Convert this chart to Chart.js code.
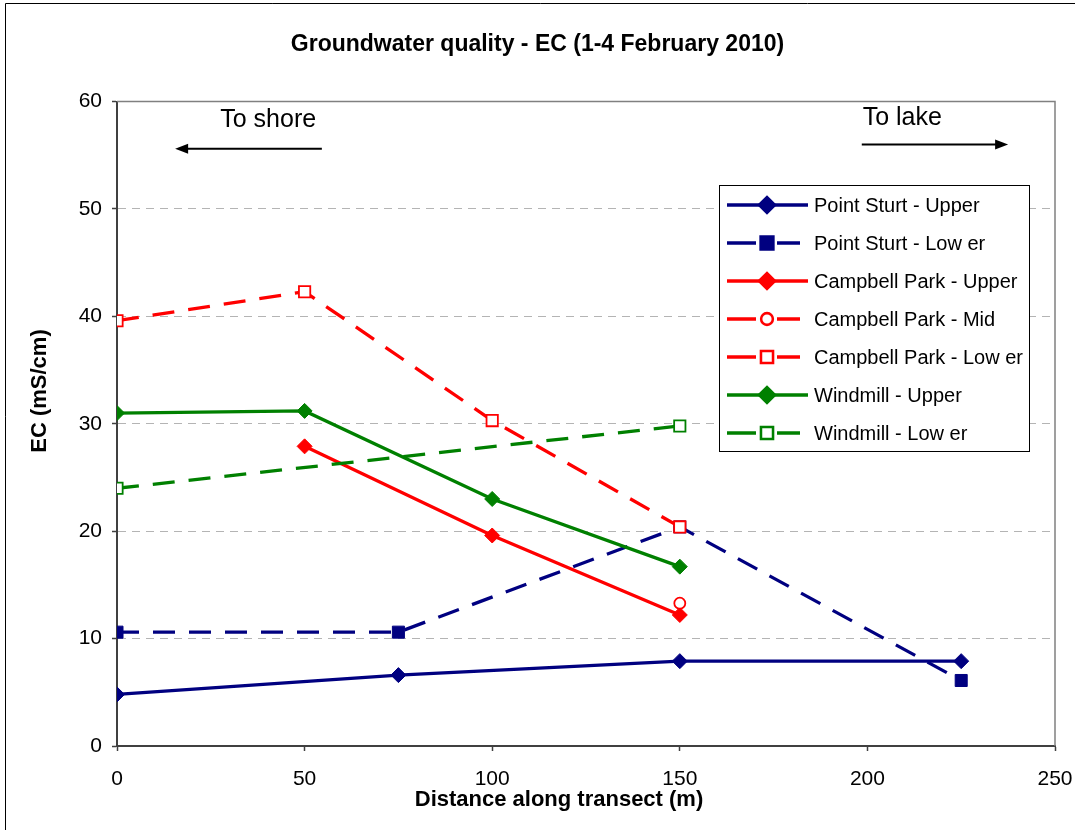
<!DOCTYPE html>
<html>
<head>
<meta charset="utf-8">
<script src="https://cdn.jsdelivr.net/npm/chart.js@4/dist/chart.umd.min.js"></script>
<style>
  html, body { margin: 0; padding: 0; background: #fff; }
</style>
</head>
<body>
<canvas id="ecChart" width="1075" height="830"></canvas>
<script>
// values (distance in m, EC in mS/cm)
const psUpperX = [0, 75, 150, 225];
const psUpperY = [4.8, 6.6, 7.9, 7.9];
const psLowerX = [0, 75, 150, 225];
const psLowerY = [10.6, 10.6, 20.4, 6.1];
const cpUpperX = [50, 100, 150];
const cpUpperY = [27.9, 19.6, 12.2];
const cpMidX = [150];
const cpMidY = [13.3];
const cpLowerX = [0, 50, 100, 150];
const cpLowerY = [39.6, 42.3, 30.3, 20.4];
const wmUpperX = [0, 50, 100, 150];
const wmUpperY = [31.0, 31.2, 23.0, 16.7];
const wmLowerX = [0, 150];
const wmLowerY = [24.0, 29.8];

const seriesNames = [
    'Point Sturt - Upper', 'Point Sturt - Low er',
    'Campbell Park - Upper', 'Campbell Park - Mid', 'Campbell Park - Low er',
    'Windmill - Upper', 'Windmill - Low er'
];
const xTicks = [0, 50, 100, 150, 200, 250];
const yTicks = [0, 10, 20, 30, 40, 50, 60];
const xTitle = 'Distance along transect (m)';
const yTitle = 'EC (mS/cm)';

const NAVY = '#000080';
const RED = '#ff0000';
const GREEN = '#008000';
const FONT = '"Liberation Sans", Arial, sans-serif';
const DASH = [22, 14];

function pts(xs, ys) {
    return xs.map((x, i) => ({ x: x, y: ys[i] }));
}

const styles = [
    { color: NAVY, dash: [], marker: 'rectRot', radius: 7.5, filled: true },
    { color: NAVY, dash: DASH, marker: 'rect', radius: 8.5, filled: true },
    { color: RED, dash: [], marker: 'rectRot', radius: 7.5, filled: true },
    { color: RED, dash: DASH, marker: 'circle', radius: 5.5, filled: false },
    { color: RED, dash: DASH, marker: 'rect', radius: 8, filled: false },
    { color: GREEN, dash: [], marker: 'rectRot', radius: 7.5, filled: true },
    { color: GREEN, dash: DASH, marker: 'rect', radius: 8, filled: false }
];
const xs = [psUpperX, psLowerX, cpUpperX, cpMidX, cpLowerX, wmUpperX, wmLowerX];
const ys = [psUpperY, psLowerY, cpUpperY, cpMidY, cpLowerY, wmUpperY, wmLowerY];

const datasets = seriesNames.map((name, i) => ({
    label: name,
    data: pts(xs[i], ys[i]),
    borderColor: styles[i].color,
    borderWidth: 3.3,
    borderDash: styles[i].dash,
    pointStyle: styles[i].marker,
    pointRadius: styles[i].radius,
    pointBackgroundColor: styles[i].filled ? styles[i].color : '#ffffff',
    pointBorderColor: styles[i].color,
    pointBorderWidth: styles[i].filled ? 1 : 1.8,
    showLine: true,
    fill: false,
    tension: 0,
    order: seriesNames.length - i
}));

// plot frame, axis titles, arrows and the boxed legend
const extrasPlugin = {
    id: 'extras',
    beforeDatasetsDraw(chart) {
        const { ctx, chartArea: a } = chart;
        ctx.save();
        ctx.strokeStyle = '#808080';
        ctx.lineWidth = 1.5;
        ctx.beginPath();
        ctx.moveTo(a.left, a.top);
        ctx.lineTo(a.right, a.top);
        ctx.lineTo(a.right, a.bottom);
        ctx.stroke();
        ctx.restore();
    },
    afterDraw(chart) {
        const { ctx, scales } = chart;
        const sx = scales.x, sy = scales.y;
        ctx.save();

        // outer chart border
        ctx.strokeStyle = '#000';
        ctx.lineWidth = 1;
        ctx.beginPath();
        ctx.moveTo(5.5, 830);
        ctx.lineTo(5.5, 3.5);
        ctx.lineTo(1075, 3.5);
        ctx.stroke();

        // axis titles (Excel places them slightly off-centre)
        ctx.fillStyle = '#000';
        ctx.font = 'bold 22px ' + FONT;
        ctx.textAlign = 'center';
        ctx.textBaseline = 'alphabetic';
        ctx.fillText(xTitle, 559, 806);
        ctx.save();
        ctx.translate(46, 391);
        ctx.rotate(-Math.PI / 2);
        ctx.fillText(yTitle, 0, 0);
        ctx.restore();

        // direction notes
        ctx.font = '25px ' + FONT;
        ctx.fillText('To shore', sx.getPixelForValue(40.3), sy.getPixelForValue(57.6));
        ctx.fillText('To lake', sx.getPixelForValue(209.3), sy.getPixelForValue(57.8));
        drawArrow(ctx, sx.getPixelForValue(54.6), sx.getPixelForValue(15.5), sy.getPixelForValue(55.6));
        drawArrow(ctx, sx.getPixelForValue(198.5), sx.getPixelForValue(237.5), sy.getPixelForValue(56.0));

        // legend
        const lx = 719.5, ly = 185.5, lw = 310, lh = 266;
        ctx.fillStyle = '#fff';
        ctx.fillRect(lx, ly, lw, lh);
        ctx.strokeStyle = '#000';
        ctx.lineWidth = 1;
        ctx.strokeRect(lx, ly, lw, lh);
        ctx.font = '20px ' + FONT;
        ctx.textAlign = 'left';
        ctx.textBaseline = 'middle';
        seriesNames.forEach((name, i) => {
            const st = styles[i];
            const y = 205 + i * 38;
            ctx.strokeStyle = st.color;
            ctx.lineWidth = 3.3;
            ctx.beginPath();
            if (st.dash.length) {
                ctx.moveTo(727, y); ctx.lineTo(756, y);
                ctx.moveTo(777, y); ctx.lineTo(800, y);
            } else {
                ctx.moveTo(727, y); ctx.lineTo(808, y);
            }
            ctx.stroke();
            Chart.helpers.drawPoint(ctx, {
                pointStyle: st.marker,
                radius: st.radius,
                borderWidth: st.filled ? 1 : 1.8,
                rotation: 0
            }, 767, y);
            ctx.fillStyle = st.filled ? st.color : '#fff';
            ctx.strokeStyle = st.color;
            ctx.lineWidth = st.filled ? 1 : 1.8;
            ctx.fill();
            ctx.stroke();
            ctx.fillStyle = '#000';
            ctx.fillText(name, 814, y + 1);
        });
        ctx.restore();
    }
};

function drawArrow(ctx, x1, x2, y) {
    const dir = x2 > x1 ? 1 : -1;
    ctx.strokeStyle = '#000';
    ctx.fillStyle = '#000';
    ctx.lineWidth = 2;
    ctx.beginPath();
    ctx.moveTo(x1, y);
    ctx.lineTo(x2 - dir * 8, y);
    ctx.stroke();
    ctx.beginPath();
    ctx.moveTo(x2, y);
    ctx.lineTo(x2 - dir * 13, y - 5);
    ctx.lineTo(x2 - dir * 13, y + 5);
    ctx.closePath();
    ctx.fill();
}

const ctx = document.getElementById('ecChart').getContext('2d');
const ecChart = new Chart(ctx, {
    type: 'scatter',
    data: { datasets: datasets },
    plugins: [extrasPlugin],
    options: {
        responsive: false,
        animation: false,
        events: [],
        layout: { padding: { left: 0, right: 0, top: 0, bottom: 0 } },
        scales: {
            x: {
                type: 'linear',
                min: 0,
                max: 250,
                afterBuildTicks: scale => { scale.ticks = xTicks.map(v => ({ value: v })); },
                afterFit: scale => {
                    scale.height = 84;
                    scale.paddingLeft = 0;
                    scale.paddingRight = 20;
                },
                ticks: { color: '#000', font: { family: FONT, size: 21 }, padding: 16, maxRotation: 0 },
                grid: { drawOnChartArea: false, drawTicks: true, tickLength: 5, tickColor: '#404040', tickWidth: 1.5 },
                border: { color: '#404040', width: 2 },
                title: { display: false, text: xTitle }
            },
            y: {
                type: 'linear',
                min: 0,
                max: 60,
                afterBuildTicks: scale => { scale.ticks = yTicks.map(v => ({ value: v })); },
                afterFit: scale => {
                    scale.width = 117;
                    scale.paddingTop = 0;
                    scale.paddingBottom = 0;
                },
                ticks: { color: '#000', font: { family: FONT, size: 21 }, padding: 10 },
                grid: {
                    color: c => (c.tick && (c.tick.value === 0 || c.tick.value === 60)) ? 'rgba(0,0,0,0)' : '#b4b4b4',
                    lineWidth: 1,
                    tickLength: 5,
                    tickColor: '#404040',
                    tickWidth: 1.5,
                    tickBorderDash: [1, 0]
                },
                border: { color: '#404040', width: 2, dash: [8, 6] },
                title: { display: false, text: yTitle }
            }
        },
        plugins: {
            legend: { display: false },
            tooltip: { enabled: false },
            title: {
                display: true,
                text: 'Groundwater quality - EC (1-4 February 2010)',
                color: '#000',
                font: { family: FONT, size: 23, weight: 'bold' },
                padding: { top: 31, bottom: 43 }
            }
        }
    }
});
</script>
</body>
</html>
